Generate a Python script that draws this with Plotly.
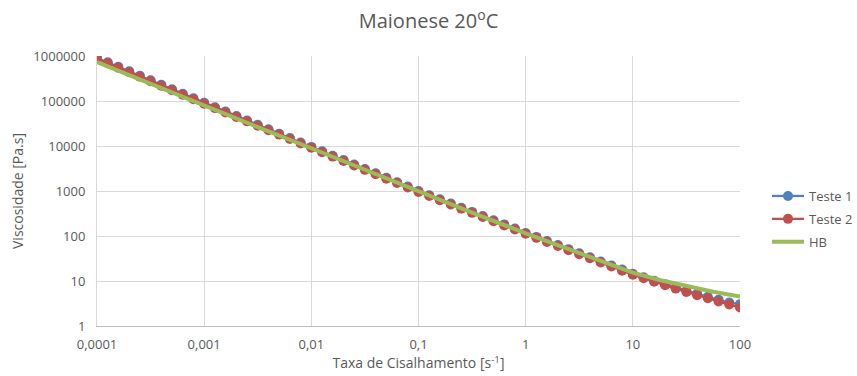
import plotly.graph_objects as go

# Shear rate (s^-1): 10 points per decade, 0.0001 .. 100
shear_rate = [
    0.0001, 0.000126, 0.000158, 0.000200, 0.000251, 0.000316, 0.000398, 0.000501, 0.000631, 0.000794,
    0.001, 0.00126, 0.00158, 0.00200, 0.00251, 0.00316, 0.00398, 0.00501, 0.00631, 0.00794,
    0.01, 0.0126, 0.0158, 0.0200, 0.0251, 0.0316, 0.0398, 0.0501, 0.0631, 0.0794,
    0.1, 0.126, 0.158, 0.200, 0.251, 0.316, 0.398, 0.501, 0.631, 0.794,
    1, 1.26, 1.58, 2.00, 2.51, 3.16, 3.98, 5.01, 6.31, 7.94,
    10, 12.6, 15.8, 20.0, 25.1, 31.6, 39.8, 50.1, 63.1, 79.4,
    100,
]

teste1 = [
    905000, 725000, 575000, 458000, 364000, 288000, 229000, 182000, 145000, 115000,
    91400, 72900, 58200, 46400, 37000, 29600, 23600, 18800, 15000, 11900,
    9560, 7640, 6090, 4860, 3880, 3090, 2470, 1970, 1570, 1260,
    1000, 808, 652, 527, 426, 343, 277, 224, 181, 146,
    117, 95.5, 77.4, 62.8, 51.0, 41.4, 33.5, 27.2, 22.1, 17.9,
    14.5, 12.1, 10.1, 8.5, 7.2, 6.1, 5.2, 4.45, 3.82, 3.33,
    3.06,
]

teste2 = [
    871000, 692000, 550000, 437000, 347000, 275000, 219000, 174000, 138000, 110000,
    87100, 69500, 55500, 44300, 35300, 28200, 22500, 17900, 14300, 11400,
    9120, 7280, 5810, 4630, 3700, 2950, 2360, 1880, 1500, 1200,
    955, 771, 622, 502, 406, 327, 264, 213, 172, 139,
    112, 91.0, 73.8, 59.8, 48.5, 39.4, 31.9, 25.9, 21.0, 17.0,
    13.8, 11.5, 9.59, 8.05, 6.78, 5.73, 4.85, 4.12, 3.51, 3.00,
    2.57,
]

hb_rate = [0.0001, 0.000316, 0.001, 0.00316, 0.01, 0.0316, 0.1, 0.316, 1, 3.16, 10, 17.8, 31.6, 56.2, 100]
hb_visc = [735000, 239000, 77600, 26300, 8910, 2930, 966, 331, 115, 41.7, 15.3, 10.5, 7.59, 5.75, 4.52]

x_tickvals = [0.0001, 0.001, 0.01, 0.1, 1, 10, 100]
x_ticktext = ["0,0001", "0,001", "0,01", "0,1", "1", "10", "100"]
y_tickvals = [1, 10, 100, 1000, 10000, 100000, 1000000]
y_ticktext = ["1", "10", "100", "1000", "10000", "100000", "1000000"]

BLUE = "#4F81BD"
RED = "#C0504D"
GREEN = "#9BBB59"
TXT = "#595959"
FONT = "Open Sans, Noto Sans, sans-serif"

fig = go.Figure()
fig.add_trace(go.Scatter(
    x=shear_rate, y=teste1, name="Teste 1", mode="lines+markers",
    line=dict(color=BLUE, width=2.25), marker=dict(color=BLUE, size=10),
    legendgroup="a",
))
fig.add_trace(go.Scatter(
    x=shear_rate, y=teste2, name="Teste 2", mode="lines+markers",
    line=dict(color=RED, width=2.25), marker=dict(color=RED, size=10),
    legendgroup="b",
))
fig.add_trace(go.Scatter(
    x=hb_rate, y=hb_visc, name="HB", mode="lines",
    line=dict(color=GREEN, width=4), legendgroup="c",
))

fig.update_layout(
    width=857, height=376,
    margin=dict(l=97, r=117, t=56, b=50, autoexpand=False),
    paper_bgcolor="white", plot_bgcolor="white",
    font=dict(family=FONT, color=TXT, size=13),
    title=dict(text="Maionese 20<sup>o</sup>C", x=0.5, xanchor="center",
               y=1 - 21 / 376, yanchor="middle",
               font=dict(family=FONT, size=20, color=TXT)),
    showlegend=True,
    legend=dict(xref="container", yref="container",
                x=767 / 857, y=1 - 181 / 376, xanchor="left", yanchor="top",
                font=dict(family=FONT, size=13, color=TXT),
                itemwidth=32,
                tracegroupgap=3, bgcolor="rgba(0,0,0,0)"),
    xaxis=dict(
        type="log", range=[-4, 2],
        tickvals=x_tickvals, ticktext=x_ticktext,
        showgrid=True, gridcolor="#D9D9D9", gridwidth=1,
        showline=True, linecolor="#BFBFBF", linewidth=1,
        zeroline=False, ticks="outside", ticklen=6, tickcolor="rgba(0,0,0,0)",
        tickfont=dict(family=FONT, size=13, color=TXT),
        title=dict(text="Taxa de Cisalhamento [s<sup>-1</sup>]", standoff=4,
                   font=dict(family=FONT, size=14, color=TXT)),
    ),
    yaxis=dict(
        type="log", range=[0, 6],
        tickvals=y_tickvals, ticktext=y_ticktext,
        showgrid=True, gridcolor="#D9D9D9", gridwidth=1,
        showline=True, linecolor="#D9D9D9", linewidth=1,
        zeroline=False, ticks="outside", ticklen=8, tickcolor="rgba(0,0,0,0)",
        tickfont=dict(family=FONT, size=13, color=TXT),
        title=dict(text="Viscosidade [Pa.s]", standoff=6,
                   font=dict(family=FONT, size=14, color=TXT)),
    ),
)

fig.write_html("out.html")
